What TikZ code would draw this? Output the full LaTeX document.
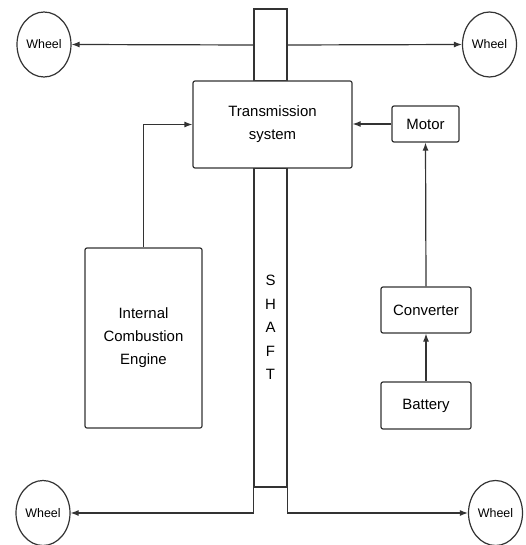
\documentclass[tikz,border=0pt]{standalone}
\usepackage{fontspec}
\setmainfont{Liberation Sans}
\usepackage{tikz}
\usetikzlibrary{positioning,arrows.meta,shapes.geometric}

\begin{document}
\begin{tikzpicture}[
    x=1bp, y=-1bp,
    box/.style={draw=black!80, line width=1.2bp, rounded corners=2bp, align=center, inner sep=0,
                font=\fontsize{15}{23}\selectfont},
    wheel/.style={draw=black!80, line width=1.2bp, ellipse, inner sep=0,
                  minimum width=54bp, minimum height=65bp, font=\fontsize{12.5}{15}\selectfont},
    shaftbox/.style={draw=black!80, line width=1.2bp, inner sep=0, minimum width=33bp, align=center,
                     font=\fontsize{15}{23.5}\selectfont},
    arr/.style={draw=black!80, line width=1.2bp, -{Latex[length=8bp,width=6bp]}},
]
\useasboundingbox (0,0) rectangle (526,545);

% Shaft (upper part behind the transmission, lower part with the label)
\node[shaftbox, minimum height=72bp] (shafttop) at (270.5,45) {};
\node[shaftbox, minimum height=319bp] (shaft) at (270.5,327.5) {S\\H\\A\\F\\T};

% Blocks
\node[box, fill=white, minimum width=159bp, minimum height=87bp] (trans) at (272.5,124.5) {Transmission\\system};
\node[box, minimum width=67bp, minimum height=36bp] (motor) at (425.5,124) {Motor};
\node[box, minimum width=117bp, minimum height=180bp] (ice) at (143.5,338) {Internal\\Combustion\\Engine};
\node[box, minimum width=90bp, minimum height=46bp] (conv) at (426,310) {Converter};
\node[box, minimum width=90bp, minimum height=47bp] (batt) at (426,405.5) {Battery};

% Wheels
\node[wheel] (wtl) at (44,44.5) {Wheel};
\node[wheel] (wtr) at (489.5,44.5) {Wheel};
\node[wheel] (wbl) at (43,513) {Wheel};
\node[wheel] (wbr) at (495.5,513) {Wheel};

% Power flow
\draw[arr] (ice.north) |- (trans.west);
\draw[arr] (motor.west) -- (motor.west -| trans.east);
\draw[arr] (conv.north) -- (motor.south);
\draw[arr] (batt.north) -- (conv.south);

% Shaft to wheels
\draw[arr] (shafttop.west) -- (wtl.east);
\draw[arr] (shafttop.east) -- (wtr.west);
\draw[arr] (shaft.south west) |- (wbl.east);
\draw[arr] (shaft.south east) |- (wbr.west);
\end{tikzpicture}
\end{document}
